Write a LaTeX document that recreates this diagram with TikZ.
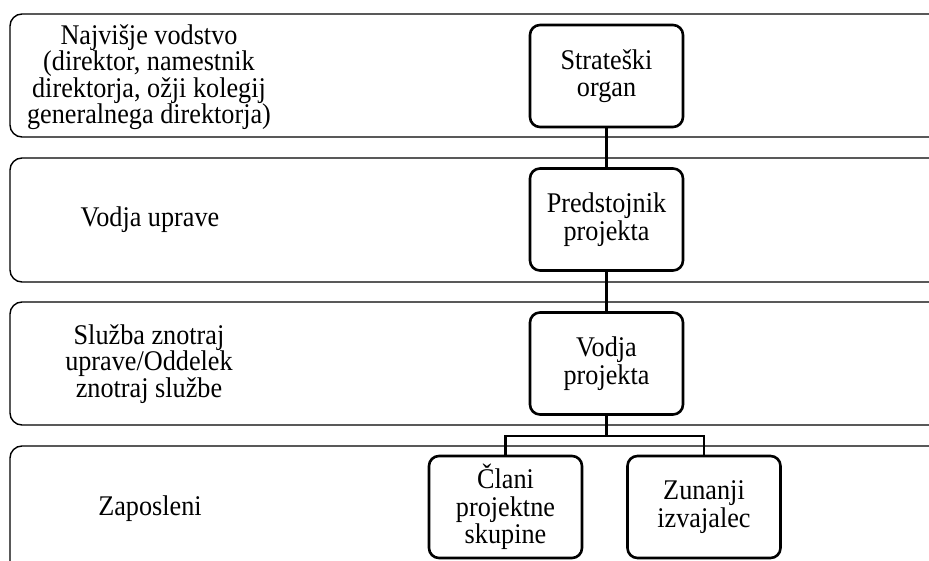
\documentclass[tikz,border=0pt]{standalone}
\usepackage{fontspec}
\setmainfont{Liberation Serif}[FakeStretch=0.92]
\usetikzlibrary{calc}
\begin{document}
\begin{tikzpicture}[x=1pt,y=-1pt,
  band/.style={draw, line width=1.4pt, rounded corners=12pt},
  bandtext/.style={align=center, font=\fontsize{28.5}{26.5}\selectfont, inner sep=0pt},
  unit/.style={draw, line width=2.6pt, rounded corners=10pt, align=center,
    minimum width=153pt, minimum height=102pt, inner sep=0pt,
    font=\fontsize{28.5}{27.5}\selectfont},
  link/.style={line width=2.6pt}]
\useasboundingbox (0,0) rectangle (929,561);

% horizontal levels (open to the right, the last one open at the bottom)
\draw[band] (10,14) rectangle (960,137);
\draw[band] (10,158) rectangle (960,282);
\draw[band] (10,302) rectangle (960,425);
\draw[band] (10,446) rectangle (960,600);

% level labels
\node[bandtext] (l1) at (149,77) {Najvišje vodstvo\\(direktor, namestnik\\direktorja, ožji kolegij\\generalnega direktorja)};
\node[bandtext] (l2) at (150,220) {Vodja uprave};
\node[bandtext] (l3) at (149,364) {Služba znotraj\\uprave/Oddelek\\znotraj službe};
\node[bandtext] (l4) at (150,509) {Zaposleni};

% units
\node[unit] (s) at (606.5,76) {Strateški\\organ};
\node[unit] (p) at (606.5,219.5) {Predstojnik\\projekta};
\node[unit] (v) at (606.5,363.5) {Vodja\\projekta};
\node[unit] (c) at (505.5,507) {Člani\\projektne\\skupine};
\node[unit] (z) at (704,507) {Zunanji\\izvajalec};

% connectors
\coordinate (j) at (606.5,436);
\draw[link] (s.south) -- (p.north);
\draw[link] (p.south) -- (v.north);
\draw[link] (v.south) -- (j);
\draw[link] (j) -| (c.north);
\draw[link] (j) -| (z.north);
\end{tikzpicture}
\end{document}
